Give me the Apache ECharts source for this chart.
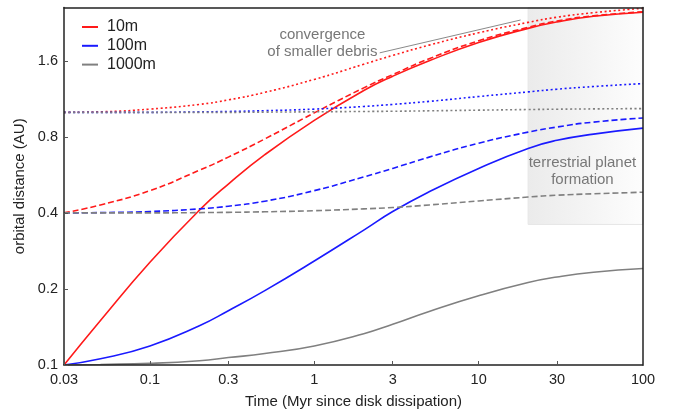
<!DOCTYPE html>
<html><head><meta charset="utf-8">
<script src="https://cdn.jsdelivr.net/npm/echarts@6/dist/echarts.min.js"></script>
<style>html,body{margin:0;padding:0;background:#fff}#c{width:680px;height:413px}</style>
</head><body><div id="c"></div>
<script>
// ---- data (time in Myr, orbital distance in AU) ----
const times = [0.03, 0.05, 0.1, 0.2, 0.3, 0.5, 1, 2, 3, 5, 10, 20, 30, 50, 100];

const red10Solid   = [0.1, 0.15, 0.255, 0.41, 0.52, 0.68, 0.93, 1.22, 1.39, 1.60, 1.89, 2.15, 2.28, 2.40, 2.49];
const red10Dashed  = [0.4, 0.43, 0.49, 0.59, 0.665, 0.785, 0.995, 1.25, 1.41, 1.63, 1.92, 2.17, 2.30, 2.41, 2.50];
const red10Dotted  = [1.0, 1.005, 1.03, 1.075, 1.12, 1.2, 1.35, 1.55, 1.68, 1.845, 2.065, 2.27, 2.38, 2.48, 2.58];

const blue100Solid  = [0.1, 0.1058, 0.119, 0.143, 0.164, 0.197, 0.258, 0.342, 0.405, 0.485, 0.6, 0.72, 0.775, 0.82, 0.866];
const blue100Dashed = [0.4, 0.401, 0.405, 0.415, 0.425, 0.445, 0.49, 0.555, 0.60, 0.665, 0.755, 0.835, 0.875, 0.915, 0.95];
const blue100Dotted = [1.0, 1.0, 1.0, 1.004, 1.008, 1.015, 1.03, 1.055, 1.075, 1.105, 1.155, 1.205, 1.235, 1.265, 1.30];

const gray1000Solid  = [0.1, 0.1005, 0.1015, 0.104, 0.107, 0.111, 0.119, 0.133, 0.145, 0.163, 0.188, 0.212, 0.223, 0.233, 0.241];
const gray1000Dashed = [0.4, 0.4, 0.4, 0.401, 0.402, 0.404, 0.408, 0.415, 0.42, 0.43, 0.446, 0.462, 0.47, 0.476, 0.483];
const gray1000Dotted = [1.0, 1.0, 1.0, 1.0, 1.0, 1.002, 1.005, 1.008, 1.01, 1.014, 1.02, 1.026, 1.029, 1.032, 1.035];

const sizeNames = ['10m', '100m', '1000m'];
const xTicks = [0.03, 0.1, 0.3, 1, 3, 10, 30, 100];
const yTicks = [0.1, 0.2, 0.4, 0.8, 1.6];
const xMin = 0.03, xMax = 100, yMin = 0.1, yMax = 2.6;

// shaded "terrestrial planet formation" window
const shadeX = [20, 100];
const shadeYBottom = 0.36;
// annotations (data coords)
const noteConvergence = { t: 1.12, au: 1.88, text: 'convergence\nof smaller debris' };
const noteTerrestrial = { t: 42.8, au: 0.586, text: 'terrestrial planet\nformation' };
const arrowFrom = [2.5, 1.72];
const arrowTo = [18, 2.32];

// ---- chart ----
const L = Math.log10;
const FONT = '"Liberation Sans", Arial, sans-serif';
function nearestLabel(v, ticks) {
  let best = ticks[0], bd = Infinity;
  ticks.forEach(t => { const d = Math.abs(L(t) - v); if (d < bd) { bd = d; best = t; } });
  return String(best);
}
function mk(name, vals, color, type) {
  return {
    name: name, type: 'line', data: times.map((t, i) => [L(t), L(vals[i])]),
    smooth: 0.5, symbol: 'none', color: color, z: 3,
    lineStyle: { color: color, width: 1.6, type: type }, silent: true
  };
}
const RED = '#ff1a1a', BLUE = '#1a1aff', GRAY = '#808080';
const DASH = [6, 3], DOT = [2, 2.6];

const series = [
  {
    name: 'annot', type: 'line', data: [], z: 1, silent: true,
    markArea: {
      silent: true,
      itemStyle: {
        color: { type: 'linear', x: 0, y: 0, x2: 1, y2: 0,
          colorStops: [{ offset: 0, color: '#ebebeb' }, { offset: 1, color: '#fdfdfd' }] },
        borderColor: '#e6e6e6', borderWidth: 1
      },
      data: [[{ coord: [L(shadeX[0]), L(shadeYBottom)] }, { coord: [L(shadeX[1]), L(yMax)] }]]
    },
    markPoint: {
      silent: true, symbol: 'rect', symbolSize: 1,
      itemStyle: { color: 'rgba(0,0,0,0)' },
      label: { show: true, position: 'inside', color: '#777', fontSize: 15, lineHeight: 17,
        fontFamily: FONT, align: 'center', verticalAlign: 'middle' },
      data: [
        { coord: [L(noteConvergence.t), L(noteConvergence.au)], label: { formatter: noteConvergence.text } },
        { coord: [L(noteTerrestrial.t), L(noteTerrestrial.au)], label: { formatter: noteTerrestrial.text } }
      ]
    },
    markLine: {
      silent: true, symbol: ['none', 'arrow'], symbolSize: [0, 7],
      lineStyle: { color: '#8a8a8a', width: 1, type: 'solid', curveness: -0.12 },
      label: { show: false },
      data: [[{ coord: [L(arrowFrom[0]), L(arrowFrom[1])] }, { coord: [L(arrowTo[0]), L(arrowTo[1])] }]]
    }
  },
  mk('10m', red10Solid, RED, 'solid'),
  mk('100m', blue100Solid, BLUE, 'solid'),
  mk('1000m', gray1000Solid, GRAY, 'solid'),
  mk('10m', red10Dashed, RED, DASH),
  mk('100m', blue100Dashed, BLUE, DASH),
  mk('1000m', gray1000Dashed, GRAY, DASH),
  mk('10m', red10Dotted, RED, DOT),
  mk('100m', blue100Dotted, BLUE, DOT),
  mk('1000m', gray1000Dotted, GRAY, DOT)
];

const spine = { show: true, onZero: false, lineStyle: { color: '#222', width: 1.5 } };
const chart = echarts.init(document.getElementById('c'), null, { renderer: 'canvas' });
chart.setOption({
  animation: false,
  backgroundColor: '#fff',
  textStyle: { fontFamily: FONT },
  grid: { left: 64, right: 37, top: 7.5, bottom: 48, outerBoundsMode: 'none', containLabel: false, show: false },
  legend: {
    data: sizeNames, orient: 'vertical', left: 77, top: 14, icon: 'rect',
    itemWidth: 16, itemHeight: 2, itemGap: 2.8, selectedMode: false,
    textStyle: { fontSize: 16, color: '#222', fontFamily: FONT, lineHeight: 15, padding: [0, 0, 0, 4] }
  },
  xAxis: [{
    type: 'value', min: L(xMin), max: L(xMax), z: 10,
    name: 'Time (Myr since disk dissipation)', nameLocation: 'middle', nameGap: 29,
    nameTextStyle: { fontSize: 15, color: '#222', fontFamily: FONT },
    axisLine: spine,
    axisTick: { show: true, inside: true, length: 4, customValues: xTicks.map(L), lineStyle: { color: '#555' } },
    axisLabel: { customValues: xTicks.map(L), showMinLabel: true, showMaxLabel: true, margin: 7,
      fontSize: 14.5, color: '#222', fontFamily: FONT, formatter: v => nearestLabel(v, xTicks) },
    splitLine: { show: false }
  }, {
    type: 'value', position: 'top', min: L(xMin), max: L(xMax), z: 10,
    axisLine: spine, axisTick: { show: false }, axisLabel: { show: false }, splitLine: { show: false }
  }],
  yAxis: [{
    type: 'value', min: L(yMin), max: L(yMax), z: 10,
    name: 'orbital distance (AU)', nameLocation: 'middle', nameGap: 27, nameRotate: 90,
    nameTextStyle: { fontSize: 15, color: '#222', fontFamily: FONT },
    axisLine: spine,
    axisTick: { show: true, inside: true, length: 4, customValues: yTicks.map(L), lineStyle: { color: '#555' } },
    axisLabel: { customValues: yTicks.map(L), showMinLabel: true, margin: 6,
      fontSize: 14.5, color: '#222', fontFamily: FONT, formatter: v => nearestLabel(v, yTicks) },
    splitLine: { show: false }
  }, {
    type: 'value', position: 'right', min: L(yMin), max: L(yMax), z: 10,
    axisLine: spine, axisTick: { show: false }, axisLabel: { show: false }, splitLine: { show: false }
  }],
  series: series
});
</script>
</body></html>
